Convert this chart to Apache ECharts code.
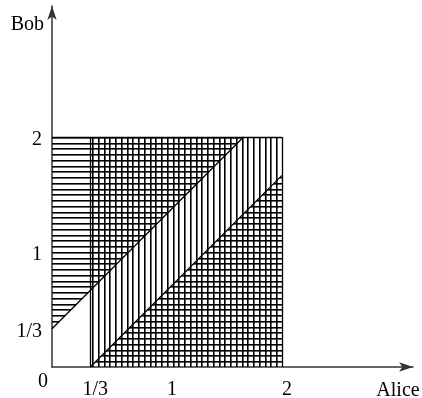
<!DOCTYPE html>
<html>
<head>
<meta charset="utf-8">
<script src="https://cdn.jsdelivr.net/npm/echarts@6/dist/echarts.min.js"></script>
<style>
html, body { margin: 0; padding: 0; background: #fff; }
#chart { width: 422px; height: 398px; }
</style>
</head>
<body>
<div id="chart"></div>
<script>
// axis ticks
var xTicks = [0, 1/3, 1, 2];
var xTickLabels = ['0', '1/3', '1', '2'];
var yTicks = [1/3, 1, 2];
var yTickLabels = ['1/3', '1', '2'];

// hatched regions, corner points
var horizTop = [[0, 1/3], [5/3, 2], [0, 2]];
var horizBottom = [[1/3, 0], [2, 0], [2, 5/3]];
var vertRegion = [[1/3, 0], [2, 0], [2, 2], [1/3, 2]];

// outline segments
var edges = [
  [[0, 2], [2, 2]],
  [[2, 0], [2, 2]],
  [[1/3, 0], [1/3, 2]],
  [[0, 1/3], [5/3, 2]],
  [[1/3, 0], [2, 5/3]]
];

var hatchStep = 0.05;
var font = 'Liberation Serif';
var fontSize = 20;

// tile with 4 hatch lines, dir 'h' or 'v'
function hatchPattern(dir, stepPx, origin) {
  var n = 4;
  var size = Math.round(n * stepPx);
  var c = document.createElement('canvas');
  c.width = size; c.height = size;
  var ctx = c.getContext('2d');
  for (var k = 0; k < n; k++) {
    var p = Math.round(k * stepPx);
    ctx.fillStyle = '#000';
    if (dir === 'h') ctx.fillRect(0, p, size, 1); else ctx.fillRect(p, 0, 1, size);
    ctx.fillStyle = 'rgba(0,0,0,0.6)';
    if (dir === 'h') ctx.fillRect(0, p + 1, size, 1); else ctx.fillRect(p + 1, 0, 1, size);
  }
  return {
    image: c,
    repeat: 'repeat',
    x: Math.round(origin[0]),
    y: Math.round(origin[1])
  };
}

function regionSeries(points, dir) {
  return {
    type: 'custom',
    coordinateSystem: 'cartesian2d',
    silent: true,
    data: points,
    renderItem: function (params, api) {
      if (params.dataIndexInside !== 0) return;
      var pts = points.map(function (p) { return api.coord(p); });
      var o = api.coord([0, 0]);
      var step = api.size([hatchStep, hatchStep]);
      return {
        type: 'polygon',
        shape: { points: pts },
        style: { fill: hatchPattern(dir, dir === 'h' ? step[1] : step[0], o), stroke: null }
      };
    }
  };
}

function labelFor(values, labels, v) {
  for (var i = 0; i < values.length; i++) {
    if (Math.abs(values[i] - v) < 1e-6) return labels[i];
  }
  return '';
}

var chart = echarts.init(document.getElementById('chart'));

var option = {
  animation: false,
  grid: { left: 52, right: 9, top: 6, bottom: 31, outerBoundsMode: 'none', containLabel: false },
  xAxis: {
    type: 'value',
    min: 0,
    max: 3.14,
    name: '{a|Alice}',
    nameLocation: 'end',
    nameGap: -15,
    nameTextStyle: {
      align: 'center',
      verticalAlign: 'top',
      rich: {
        a: { fontFamily: font, fontSize: fontSize, color: '#000', padding: [14, 0, 0, 0] }
      }
    },
    axisLine: {
      lineStyle: { color: '#333', width: 1.5 },
      symbol: ['none', 'arrow'],
      symbolSize: [7, 14]
    },
    axisTick: { show: false },
    splitLine: { show: false },
    axisLabel: {
      customValues: xTicks,
      showMinLabel: true,
      margin: 5,
      formatter: function (v) {
        var t = labelFor(xTicks, xTickLabels, v);
        return v === 0 ? '{z|' + t + '}' : '{s|' + t + '}';
      },
      rich: {
        z: { fontFamily: font, fontSize: fontSize, color: '#000', padding: [0, 18, 0, 0] },
        s: { fontFamily: font, fontSize: fontSize, color: '#000', padding: [8, 0, 0, 10] }
      }
    }
  },
  yAxis: {
    type: 'value',
    min: 0,
    max: 3.14,
    name: 'Bob',
    nameLocation: 'end',
    nameGap: -19,
    nameTextStyle: {
      fontFamily: font, fontSize: fontSize, color: '#000',
      align: 'right', verticalAlign: 'middle', padding: [0, 8, 0, 0]
    },
    axisLine: {
      lineStyle: { color: '#333', width: 1.5 },
      symbol: ['none', 'arrow'],
      symbolSize: [7, 14]
    },
    axisTick: { show: false },
    splitLine: { show: false },
    axisLabel: {
      customValues: yTicks,
      margin: 10,
      formatter: function (v) { return '{y|' + labelFor(yTicks, yTickLabels, v) + '}'; },
      rich: {
        y: { fontFamily: font, fontSize: fontSize, color: '#000', padding: [6, 0, 0, 0] }
      }
    }
  },
  series: [
    regionSeries(horizTop, 'h'),
    regionSeries(horizBottom, 'h'),
    regionSeries(vertRegion, 'v'),
    {
      type: 'lines',
      coordinateSystem: 'cartesian2d',
      silent: true,
      lineStyle: { color: '#000', width: 1.3, opacity: 1, curveness: 0 },
      data: edges.map(function (e) { return { coords: e }; })
    }
  ]
};

chart.setOption(option);
</script>
</body>
</html>
